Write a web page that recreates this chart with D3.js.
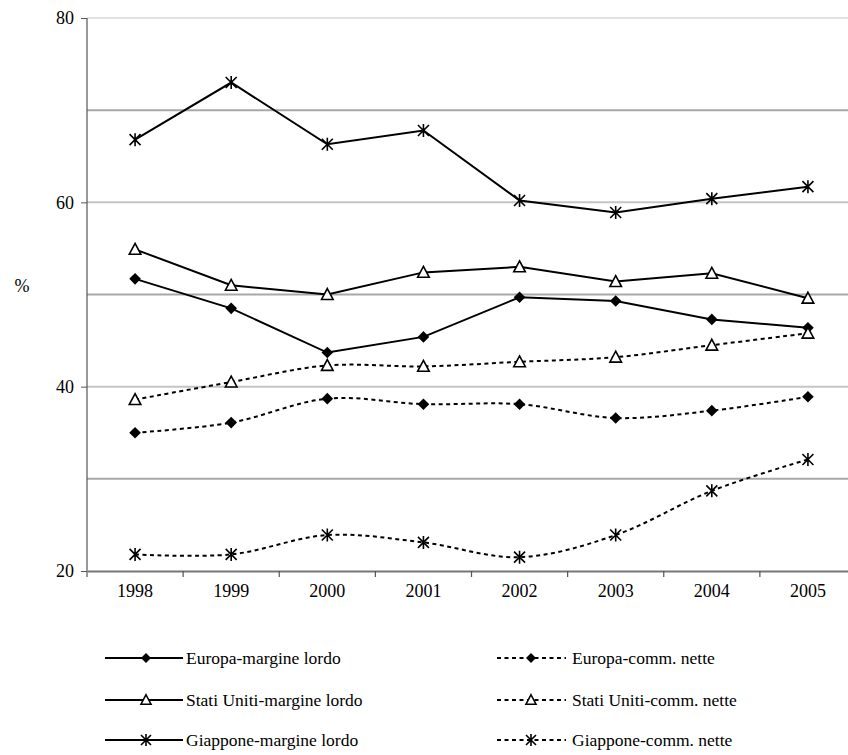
<!DOCTYPE html>
<html>
<head>
<meta charset="utf-8">
<script src="https://cdn.jsdelivr.net/npm/d3@7"></script>
<style>
  html, body { margin: 0; padding: 0; background: #fff; }
  svg { display: block; }
</style>
</head>
<body>
<svg id="chart" width="848" height="755"></svg>
<script>
// Anni e serie (valori in %)
const years = ["1998", "1999", "2000", "2001", "2002", "2003", "2004", "2005"];
const europaLordo   = [51.7, 48.5, 43.7, 45.4, 49.7, 49.3, 47.3, 46.4];
const usaLordo      = [54.9, 51.0, 50.0, 52.4, 53.0, 51.4, 52.3, 49.6];
const giapponeLordo = [66.8, 73.0, 66.3, 67.8, 60.2, 58.9, 60.4, 61.7];
const europaNette   = [35.0, 36.1, 38.7, 38.1, 38.1, 36.6, 37.4, 38.9];
const usaNette      = [38.6, 40.5, 42.3, 42.2, 42.7, 43.2, 44.5, 45.8];
const giapponeNette = [21.8, 21.8, 23.9, 23.1, 21.5, 23.9, 28.7, 32.1];
const yTicks = [20, 40, 60, 80];
const gridValues = [30, 40, 50, 60, 70, 80];

const seriesNames = [
  "Europa-margine lordo", "Stati Uniti-margine lordo", "Giappone-margine lordo",
  "Europa-comm. nette", "Stati Uniti-comm. nette", "Giappone-comm. nette"
];

const series = [
  { name: seriesNames[0], values: europaLordo,   marker: "diamond",  dashed: false },
  { name: seriesNames[1], values: usaLordo,      marker: "triangle", dashed: false },
  { name: seriesNames[2], values: giapponeLordo, marker: "star",     dashed: false },
  { name: seriesNames[3], values: europaNette,   marker: "diamond",  dashed: true },
  { name: seriesNames[4], values: usaNette,      marker: "triangle", dashed: true },
  { name: seriesNames[5], values: giapponeNette, marker: "star",     dashed: true }
];

const serif = "Liberation Serif, DejaVu Serif";
const svg = d3.select("#chart").attr("font-family", serif);
const plotLeft = 87, plotTop = 18, plotBottom = 571, bandRight = 856;

const x = d3.scaleBand().domain(years).range([plotLeft, bandRight]);
const y = d3.scaleLinear().domain([20, 80]).range([plotBottom, plotTop]);
const cx = d => x(d) + x.bandwidth() / 2;

// Griglia orizzontale
svg.append("g").selectAll("line")
  .data(gridValues)
  .join("line")
  .attr("x1", plotLeft).attr("x2", 848)
  .attr("y1", d => y(d)).attr("y2", d => y(d))
  .attr("stroke", d => d === 80 ? "#e2e2e2" : (d % 20 === 0 ? "#c4c4c4" : "#a8a8a8"))
  .attr("stroke-width", 2);

// Asse Y
const yAxis = svg.append("g")
  .attr("transform", `translate(${plotLeft},0)`)
  .call(d3.axisLeft(y).tickValues(yTicks).tickSize(6).tickPadding(7).tickFormat(d3.format("d")));
yAxis.attr("font-family", serif).attr("font-size", 18);
yAxis.select(".domain").attr("stroke", "#555").attr("stroke-width", 1.2).attr("d", `M0,${plotTop}V${plotBottom + 6}`);
yAxis.selectAll(".tick line").attr("stroke", "#555");
yAxis.selectAll(".tick text").attr("fill", "#000");

// Asse X
const xAxis = svg.append("g")
  .attr("transform", `translate(0,${plotBottom})`)
  .call(d3.axisBottom(x).tickSize(0).tickPadding(13));
xAxis.attr("font-family", serif).attr("font-size", 18);
xAxis.select(".domain").attr("stroke", "#777").attr("stroke-width", 2);
xAxis.selectAll(".tick text").attr("fill", "#000");
// Tacche tra le categorie
svg.append("g").selectAll("line")
  .data(years)
  .join("line")
  .attr("x1", d => x(d) + x.bandwidth())
  .attr("x2", d => x(d) + x.bandwidth())
  .attr("y1", plotBottom).attr("y2", plotBottom + 6)
  .attr("stroke", "#555").attr("stroke-width", 1.2);

// Etichetta asse Y
svg.append("text")
  .attr("x", 22).attr("y", y(50) - 7)
  .attr("text-anchor", "middle")
  .attr("dominant-baseline", "middle")
  .attr("font-size", 18)
  .attr("fill", "#000")
  .text("%");

// Simboli
function drawMarker(g, type, px, py, s) {
  if (type === "diamond") {
    g.append("path")
      .attr("d", `M${px},${py - s}L${px + s},${py}L${px},${py + s}L${px - s},${py}Z`)
      .attr("fill", "#000");
  } else if (type === "triangle") {
    const h = s * 1.7;
    g.append("path")
      .attr("d", `M${px},${py - h / 2 - 1}L${px + s},${py + h / 2}L${px - s},${py + h / 2}Z`)
      .attr("fill", "#fff").attr("stroke", "#000").attr("stroke-width", 1.6);
  } else {
    const r = s;
    g.append("path")
      .attr("d", `M${px - r},${py - r}L${px + r},${py + r}M${px - r},${py + r}L${px + r},${py - r}M${px},${py - r - 1}L${px},${py + r + 1}`)
      .attr("fill", "none").attr("stroke", "#000").attr("stroke-width", 1.6);
  }
}

const plot = svg.append("g");
series.forEach(s => {
  const line = d3.line()
    .x((d, i) => cx(years[i]))
    .y(d => y(d))
    .curve(s.dashed ? d3.curveCatmullRom.alpha(0) : d3.curveLinear);
  plot.append("path")
    .datum(s.values)
    .attr("d", line)
    .attr("fill", "none")
    .attr("stroke", "#000")
    .attr("stroke-width", 2)
    .attr("stroke-dasharray", s.dashed ? "4,3.5" : null);
});
series.forEach(s => {
  const g = plot.append("g");
  s.values.forEach((v, i) => {
    drawMarker(g, s.marker, cx(years[i]), y(v), s.marker === "star" ? 5.5 : 5.8);
  });
});

// Legenda
const legendRows = [658, 700, 740];
const legendCols = [
  { x1: 105, x2: 183, mx: 146, tx: 186 },
  { x1: 497, x2: 566, mx: 531, tx: 572 }
];
const legend = svg.append("g").attr("font-size", 17.5);
series.forEach((s, i) => {
  const col = legendCols[s.dashed ? 1 : 0];
  const ry = legendRows[i % 3];
  legend.append("line")
    .attr("x1", col.x1).attr("x2", col.x2)
    .attr("y1", ry).attr("y2", ry)
    .attr("stroke", "#000").attr("stroke-width", 2)
    .attr("stroke-dasharray", s.dashed ? "4,3.5" : null);
  drawMarker(legend, s.marker, col.mx, ry, 5);
  legend.append("text")
    .attr("x", col.tx).attr("y", ry)
    .attr("dy", "0.33em")
    .attr("fill", "#000")
    .text(s.name);
});
</script>
</body>
</html>
